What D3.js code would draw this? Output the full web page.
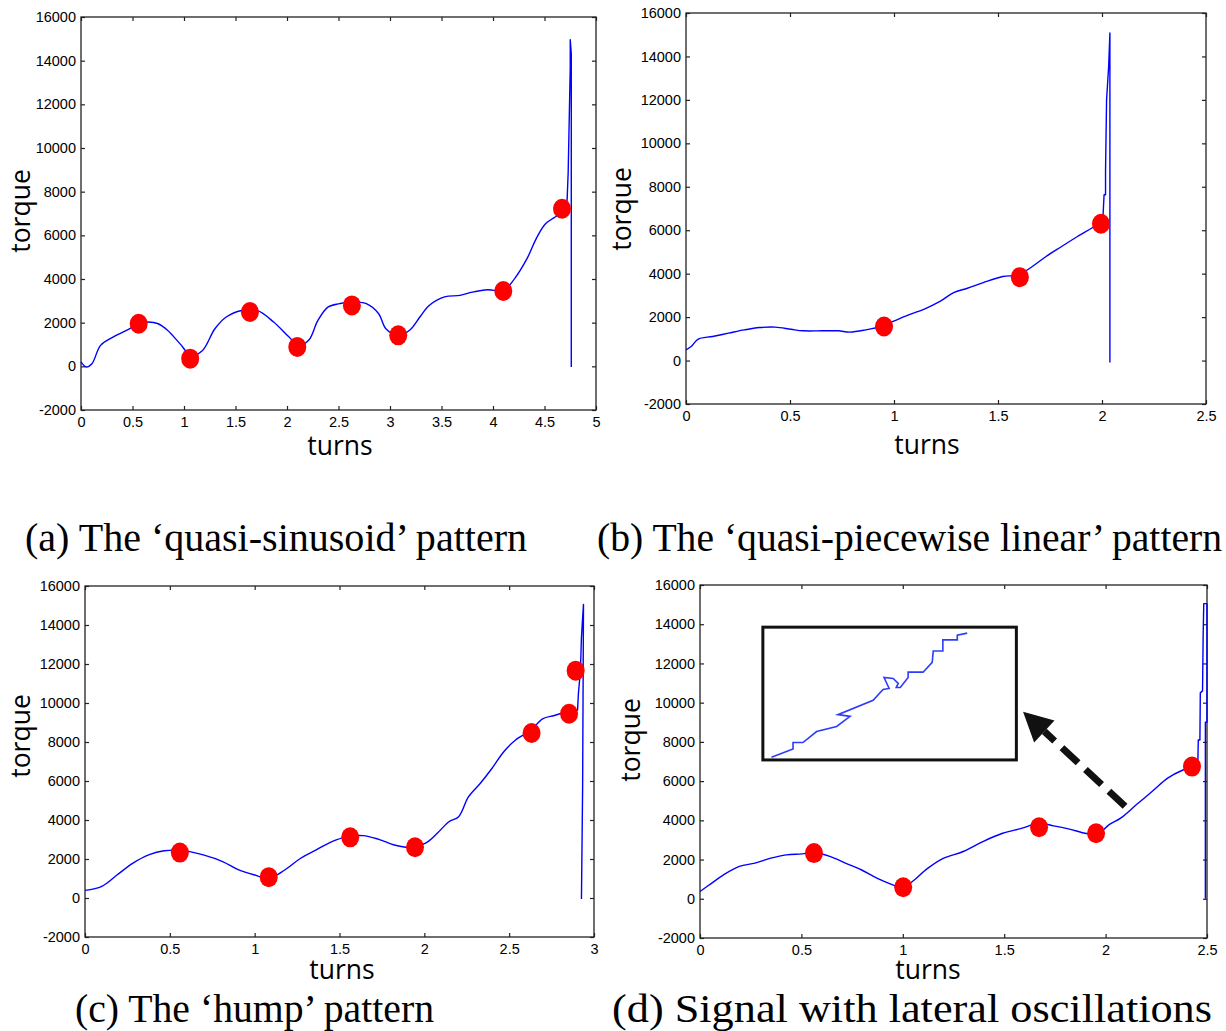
<!DOCTYPE html>
<html>
<head>
<meta charset="UTF-8">
<title>Torque signal patterns</title>
<style>
body { margin: 0; background: #fff; }
svg { display: block; }
.tick text { font-family: "Liberation Sans", Arial, sans-serif; font-size: 14.5px; fill: #000; }
.axis path.domain { display: none; }
.axis line { stroke: #222; stroke-width: 1.2; }
.axis-title { font-family: "Open Sans", sans-serif; font-size: 26.5px; fill: #000; }
.caption { font-family: "Liberation Serif", "Times New Roman", serif; font-size: 39.5px; fill: #000; }
</style>
</head>
<body>
<svg></svg>
<script src="https://d3js.org/d3.v7.min.js"></script>
<script>

const width = 1226, height = 1031;

// shared y ticks
const torqueTicks = [-2000, 0, 2000, 4000, 6000, 8000, 10000, 12000, 14000, 16000];

// (a) quasi-sinusoid
const turnsA  = [0, 0.05, 0.106, 0.19, 0.31, 0.47, 0.56, 0.65, 0.75, 0.84, 0.96, 1.07, 1.18, 1.30, 1.41, 1.56, 1.71, 1.87, 2.02, 2.11, 2.21, 2.30, 2.40, 2.51, 2.62, 2.77, 2.89, 2.96, 3.08, 3.19, 3.29, 3.38, 3.53, 3.68, 3.80, 3.95, 4.10, 4.21, 4.33, 4.42, 4.51, 4.63, 4.71, 4.72, 4.73, 4.75, 4.75, 4.76, 4.76];
const torqueA = [200, -30, 120, 960, 1340, 1720, 1950, 2030, 1950, 1650, 1040, 500, 730, 1720, 2260, 2560, 2560, 2030, 1340, 960, 1190, 2100, 2720, 2870, 2950, 2870, 2410, 1720, 1420, 1650, 2260, 2790, 3180, 3250, 3400, 3510, 3480, 4020, 4930, 5850, 6530, 6920, 7220, 7680, 8900, 13710, 14960, 14320, -30];
const dotTurnsA  = [0.56, 1.06, 1.64, 2.10, 2.63, 3.08, 4.10, 4.67];
const dotTorqueA = [1950, 350, 2490, 890, 2790, 1420, 3450, 7220];

// (b) quasi-piecewise linear
const turnsB  = [0, 0.025, 0.057, 0.128, 0.204, 0.279, 0.354, 0.43, 0.505, 0.562, 0.656, 0.732, 0.788, 0.864, 0.939, 0.995, 1.07, 1.146, 1.221, 1.287, 1.353, 1.429, 1.523, 1.599, 1.665, 1.731, 1.806, 1.882, 1.976, 2.004, 2.01, 2.017, 2.017, 2.022, 2.032, 2.038, 2.038];
const torqueB = [490, 645, 980, 1110, 1260, 1410, 1520, 1540, 1440, 1370, 1370, 1370, 1310, 1410, 1570, 1800, 2100, 2370, 2720, 3130, 3330, 3590, 3870, 3950, 4330, 4790, 5250, 5710, 6250, 6480, 7630, 7630, 8710, 12010, 13540, 15080, -90];
const dotTurnsB  = [0.952, 1.605, 1.995];
const dotTorqueB = [1570, 3840, 6300];

// (c) hump
const turnsC  = [0, 0.099, 0.19, 0.283, 0.375, 0.467, 0.582, 0.697, 0.811, 0.903, 0.995, 1.087, 1.179, 1.271, 1.363, 1.455, 1.547, 1.639, 1.731, 1.823, 1.915, 2.007, 2.076, 2.145, 2.202, 2.26, 2.329, 2.398, 2.467, 2.536, 2.628, 2.697, 2.766, 2.834, 2.903, 2.908, 2.92, 2.926, 2.933, 2.938, 2.933, 2.926];
const torqueC = [390, 600, 1190, 1790, 2210, 2420, 2430, 2210, 1870, 1450, 1190, 1020, 1450, 2040, 2470, 2890, 3150, 3200, 3010, 2720, 2600, 2810, 3320, 3910, 4170, 5190, 5870, 6640, 7490, 8090, 8600, 9190, 9360, 9530, 9620, 10470, 11660, 13360, 14380, 15060, 5700, -50];
const dotTurnsC  = [0.559, 1.083, 1.563, 1.945, 2.632, 2.853, 2.892];
const dotTorqueC = [2330, 1070, 3110, 2600, 8460, 9450, 11660];

// (d) lateral oscillations
const turnsD  = [0, 0.058, 0.116, 0.194, 0.271, 0.349, 0.426, 0.504, 0.562, 0.64, 0.717, 0.795, 0.872, 0.95, 0.998, 1.047, 1.124, 1.202, 1.298, 1.395, 1.492, 1.589, 1.667, 1.744, 1.822, 1.899, 1.957, 2.016, 2.074, 2.151, 2.229, 2.306, 2.384, 2.432, 2.455, 2.457, 2.465, 2.467, 2.478, 2.481, 2.484, 2.5, 2.5, 2.492, 2.492];
const torqueD = [370, 800, 1220, 1650, 1820, 2070, 2240, 2290, 2360, 2160, 1820, 1480, 1050, 710, 540, 880, 1560, 2070, 2410, 2920, 3340, 3600, 3850, 3720, 3550, 3340, 3260, 3770, 4110, 4790, 5470, 6150, 6580, 6740, 7000, 8100, 8100, 10500, 10600, 13400, 15050, 15050, 9000, 9000, 0];
const dotTurnsD  = [0.562, 1.002, 1.672, 1.953, 2.426];
const dotTorqueD = [2330, 590, 3650, 3340, 6740];

// (d) zoomed inset: local 0-100 units inside the inset box
const insetU = [3.4, 11.9, 11.9, 15.8, 21.2, 29.1, 34.4, 29.6, 43.5, 47.4, 49.8, 47.8, 51.4, 53.4, 52.6, 54.2, 57.3, 57.3, 63.2, 66.8, 67.2, 71.0, 71.0, 76.7, 76.7, 80.6];
const insetV = [2.0, 8.3, 13.1, 13.1, 21.4, 25.2, 32.8, 34.1, 44.9, 53.0, 53.8, 62.1, 61.4, 57.6, 54.5, 54.5, 62.1, 66.1, 66.1, 73.5, 82.0, 82.0, 90.4, 90.4, 93.9, 95.5];
// inset box and arrow, in (d) data units [turns, torque]
const insetBox = [[0.31, 13850], [1.56, 7080]];
const arrowFrom = [2.096, 4718];
const arrowTip  = [1.593, 9538];

const panels = [
  { turns: turnsA, torque: torqueA, dotT: dotTurnsA, dotQ: dotTorqueA, xMax: 5, xStep: 0.5,
    left: 81, right: 596, top: 17, bottom: 410, titleX: 340, titleY: 455, torqueX: 30, torqueY: 211,
    caption: "(a) The \u2018quasi-sinusoid\u2019 pattern", capX: 25, capY: 551, capW: 502 },
  { turns: turnsB, torque: torqueB, dotT: dotTurnsB, dotQ: dotTorqueB, xMax: 2.5, xStep: 0.5,
    left: 686, right: 1206, top: 13, bottom: 404, titleX: 927, titleY: 454, torqueX: 631, torqueY: 209,
    caption: "(b) The \u2018quasi-piecewise linear\u2019 pattern", capX: 597, capY: 551, capW: 625 },
  { turns: turnsC, torque: torqueC, dotT: dotTurnsC, dotQ: dotTorqueC, xMax: 3, xStep: 0.5,
    left: 85, right: 594, top: 586, bottom: 937, titleX: 342, titleY: 979, torqueX: 30, torqueY: 736,
    caption: "(c) The \u2018hump\u2019 pattern", capX: 75, capY: 1022, capW: 359 },
  { turns: turnsD, torque: torqueD, dotT: dotTurnsD, dotQ: dotTorqueD, xMax: 2.5, xStep: 0.5,
    left: 700, right: 1207, top: 585, bottom: 938, titleX: 928, titleY: 979, torqueX: 640, torqueY: 740,
    caption: "(d) Signal with lateral oscillations", capX: 612, capY: 1022, capW: 600 }
];

let svg = d3.select("svg")
    .attr("width", width)
    .attr("height", height)
    .attr("viewBox", "0 0 " + width + " " + height);

svg.append("rect").attr("width", width).attr("height", height).attr("fill", "#fff");

function drawPanel(p, i) {
  let g = svg.append("g");
  let x = d3.scaleLinear().domain([0, p.xMax]).range([p.left, p.right]);
  let y = d3.scaleLinear().domain([-2000, 16000]).range([p.bottom, p.top]);
  let xTicks = d3.range(0, p.xMax + 0.001, p.xStep).map(d => Math.round(d * 10) / 10);

  g.append("g").attr("class", "axis")
    .attr("transform", `translate(0,${p.bottom})`)
    .call(d3.axisBottom(x).tickValues(xTicks).tickSizeInner(-4).tickSizeOuter(0).tickPadding(7).tickFormat(d => String(d)));
  g.append("g").attr("class", "axis")
    .attr("transform", `translate(0,${p.top})`)
    .call(d3.axisTop(x).tickValues(xTicks).tickSizeInner(-4).tickSizeOuter(0).tickFormat(""));
  g.append("g").attr("class", "axis")
    .attr("transform", `translate(${p.left},0)`)
    .call(d3.axisLeft(y).tickValues(torqueTicks).tickSizeInner(-4).tickSizeOuter(0).tickPadding(5).tickFormat(d => String(d)));
  g.append("g").attr("class", "axis")
    .attr("transform", `translate(${p.right},0)`)
    .call(d3.axisRight(y).tickValues(torqueTicks).tickSizeInner(-4).tickSizeOuter(0).tickFormat(""));

  g.append("rect")
    .attr("x", p.left).attr("y", p.top)
    .attr("width", p.right - p.left).attr("height", p.bottom - p.top)
    .attr("fill", "none").attr("stroke", "#222").attr("stroke-width", 1.3);

  // smooth curve up to the final spike, straight segments for the spike itself
  let pts = d3.zip(p.turns, p.torque);
  let cut = pts.findIndex((d, k) => k < pts.length - 1 && pts[k + 1][0] - d[0] < 0.015);
  let smooth = d3.line().x(d => x(d[0])).y(d => y(d[1])).curve(d3.curveCatmullRom.alpha(0.5));
  let straight = d3.line().x(d => x(d[0])).y(d => y(d[1]));
  [[pts.slice(0, cut + 1), smooth], [pts.slice(cut), straight]].forEach(([seg, gen]) => {
    g.append("path")
      .datum(seg)
      .attr("d", gen)
      .attr("fill", "none")
      .attr("stroke", "#0000ff")
      .attr("stroke-width", 1.4)
      .attr("stroke-linejoin", "round");
  });

  g.selectAll("ellipse.dot")
    .data(d3.zip(p.dotT, p.dotQ))
    .enter()
    .append("ellipse")
    .attr("class", "dot")
    .attr("cx", d => x(d[0]))
    .attr("cy", d => y(d[1]))
    .attr("rx", 9)
    .attr("ry", 10)
    .attr("fill", "#ff0000");

  g.append("text").attr("class", "axis-title")
    .attr("x", p.titleX).attr("y", p.titleY)
    .attr("text-anchor", "middle")
    .text("turns");
  g.append("text").attr("class", "axis-title")
    .attr("transform", `translate(${p.torqueX},${p.torqueY}) rotate(-90)`)
    .attr("text-anchor", "middle")
    .text("torque");

  g.append("text").attr("class", "caption")
    .attr("x", p.capX).attr("y", p.capY)
    .attr("textLength", p.capW)
    .attr("lengthAdjust", "spacingAndGlyphs")
    .text(p.caption);

  // panel (d) has the zoom inset and arrow
  if (i == 3) {
    let bx0 = x(insetBox[0][0]), by0 = y(insetBox[0][1]);
    let bx1 = x(insetBox[1][0]), by1 = y(insetBox[1][1]);
    g.append("rect")
      .attr("x", bx0).attr("y", by0)
      .attr("width", bx1 - bx0).attr("height", by1 - by0)
      .attr("fill", "#fff").attr("stroke", "#111").attr("stroke-width", 3);

    let ix = d3.scaleLinear().domain([0, 100]).range([bx0, bx1]);
    let iy = d3.scaleLinear().domain([0, 100]).range([by1, by0]);
    g.append("path")
      .datum(d3.zip(insetU, insetV))
      .attr("d", d3.line().x(d => ix(d[0])).y(d => iy(d[1])))
      .attr("fill", "none")
      .attr("stroke", "#2b3cff")
      .attr("stroke-width", 1.6);

    let sx = x(arrowFrom[0]), sy = y(arrowFrom[1]);
    let tx = x(arrowTip[0]), ty = y(arrowTip[1]);
    let len = Math.hypot(tx - sx, ty - sy);
    let ux = (tx - sx) / len, uy = (ty - sy) / len;
    let headLen = 29, headHalf = 15;
    let baseX = tx - ux * headLen, baseY = ty - uy * headLen;
    g.append("line")
      .attr("x1", sx).attr("y1", sy)
      .attr("x2", baseX).attr("y2", baseY)
      .attr("stroke", "#111")
      .attr("stroke-width", 7)
      .attr("stroke-dasharray", "22,10");
    g.append("polygon")
      .attr("points", [
        [tx, ty],
        [baseX - uy * headHalf, baseY + ux * headHalf],
        [baseX + uy * headHalf, baseY - ux * headHalf]
      ].map(q => q.join(",")).join(" "))
      .attr("fill", "#111");
  }
}

panels.forEach(drawPanel);

</script>
</body>
</html>
